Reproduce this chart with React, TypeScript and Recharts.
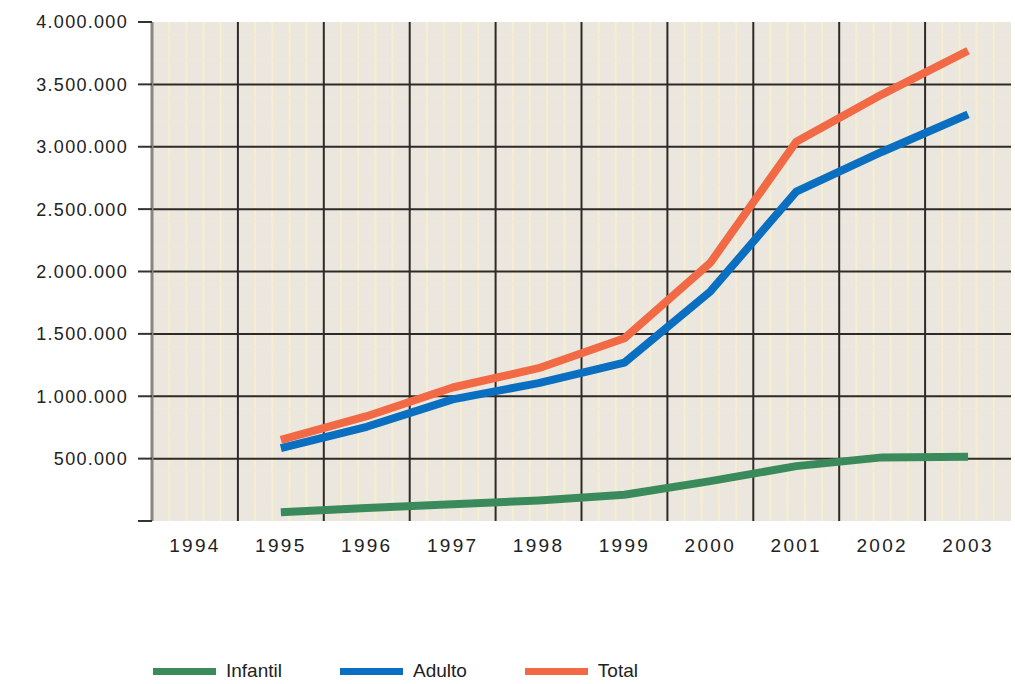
import React from 'react';
import { LineChart, Line, XAxis, YAxis, CartesianGrid } from 'recharts';

const YEARS = [1994, 1995, 1996, 1997, 1998, 1999, 2000, 2001, 2002, 2003];
const INFANTIL = [null, 70000, 105000, 135000, 165000, 210000, 320000, 440000, 510000, 515000];
const ADULTO = [null, 585000, 755000, 975000, 1105000, 1270000, 1840000, 2640000, 2960000, 3260000];
const TOTAL = [null, 650000, 840000, 1070000, 1225000, 1465000, 2070000, 3040000, 3420000, 3770000];
const Y_TICKS = [0, 500000, 1000000, 1500000, 2000000, 2500000, 3000000, 3500000, 4000000];

const SERIES = [
  { key: 'infantil', name: 'Infantil', color: '#3b8a5b' },
  { key: 'adulto', name: 'Adulto', color: '#0b6fc1' },
  { key: 'total', name: 'Total', color: '#f26a45' },
];

const data = YEARS.map((year, i) => ({
  year,
  infantil: INFANTIL[i],
  adulto: ADULTO[i],
  total: TOTAL[i],
}));

// boundaries between the year columns
const BOUNDS = [YEARS[0] - 0.5, ...YEARS.map((y) => y + 0.5)];
const MINOR_X = YEARS.flatMap((y) => [-0.3, -0.1, 0.1, 0.3].map((d) => y + d));
const MINOR_Y = Y_TICKS.slice(0, -1).flatMap((v) => [100000, 200000, 300000, 400000].map((d) => v + d));

const FONT = '"Liberation Sans", Arial, sans-serif';

const fmt = (v: number) => (v === 0 ? '' : v.toString().replace(/\B(?=(\d{3})+(?!\d))/g, '.'));

export default function App() {
  return (
    <div style={{ position: 'absolute', left: 0, top: 0, width: 1015, height: 684, background: '#fff', fontFamily: FONT }}>
      <LineChart width={1015} height={684} data={data} margin={{ top: 22, right: 4, bottom: 0, left: 0 }}>
        <CartesianGrid fill="#ebe7de" stroke="none" horizontal={false} vertical={false} />
        <CartesianGrid stroke="#f6efcd" strokeWidth={2} horizontal={false} verticalValues={MINOR_X} />
        <CartesianGrid stroke="#efe9da" strokeWidth={1} vertical={false} horizontalValues={MINOR_Y} />
        <CartesianGrid
          stroke="#2e2a27"
          strokeWidth={2}
          verticalValues={BOUNDS.slice(1, -1)}
          horizontalValues={Y_TICKS.slice(1, -1)}
        />
        <XAxis
          dataKey="year"
          type="number"
          domain={[BOUNDS[0], BOUNDS[BOUNDS.length - 1]]}
          ticks={BOUNDS}
          tickFormatter={() => ''}
          tickSize={13}
          height={0}
          axisLine={{ stroke: '#222', strokeWidth: 2 }}
          tickLine={{ stroke: '#222', strokeWidth: 2 }}
        />
        <XAxis
          xAxisId="lab"
          dataKey="year"
          type="number"
          domain={[BOUNDS[0], BOUNDS[BOUNDS.length - 1]]}
          ticks={YEARS}
          axisLine={false}
          tickLine={false}
          tickSize={0}
          tickMargin={18}
          height={163}
          tick={{ fill: '#222', fontSize: 19, fontFamily: FONT, letterSpacing: 2.3 }}
        />
        <YAxis
          domain={[0, 4000000]}
          ticks={Y_TICKS}
          width={152}
          tickSize={14}
          tickMargin={10}
          tickFormatter={fmt}
          axisLine={{ stroke: '#8a8580', strokeWidth: 3 }}
          tickLine={{ stroke: '#333', strokeWidth: 2 }}
          tick={{ fill: '#222', fontSize: 18, fontFamily: FONT, letterSpacing: 1.3 }}
        />
        {SERIES.map((s) => (
          <Line
            key={s.key}
            type="linear"
            dataKey={s.key}
            name={s.name}
            stroke={s.color}
            strokeWidth={8}
            strokeLinejoin="round"
            dot={false}
            activeDot={false}
            isAnimationActive={false}
          />
        ))}
      </LineChart>
      <div style={{ position: 'absolute', left: 153, top: 659, display: 'flex', alignItems: 'center', gap: 58 }}>
        {SERIES.map((s) => (
          <div key={s.key} style={{ display: 'flex', alignItems: 'center' }}>
            <div style={{ width: 63, height: 7, background: s.color, marginRight: 10 }} />
            <span style={{ fontSize: 19, color: '#222', lineHeight: '24px' }}>{s.name}</span>
          </div>
        ))}
      </div>
    </div>
  );
}
